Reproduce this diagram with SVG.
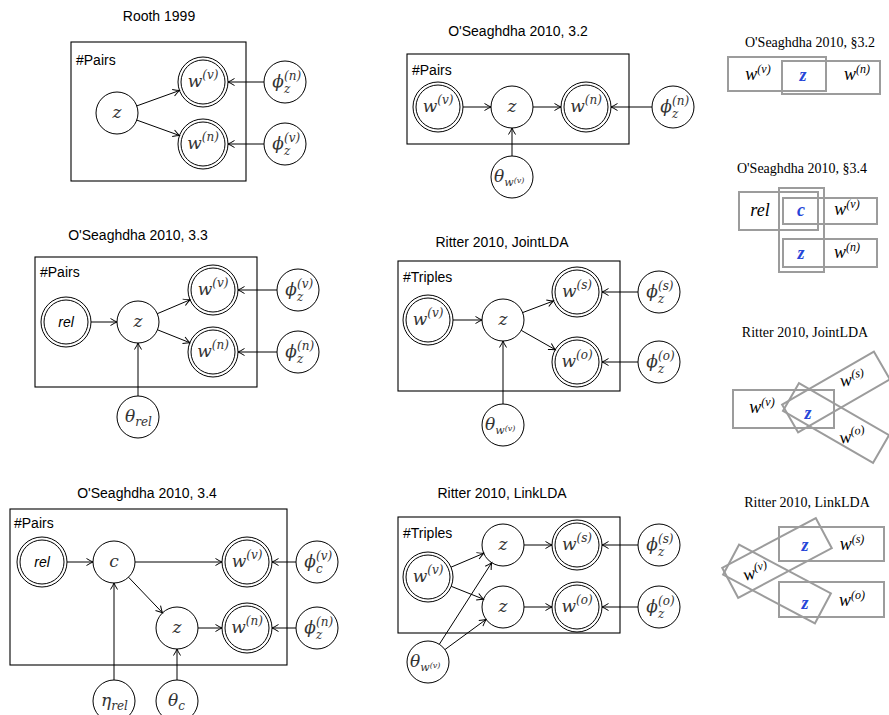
<svg xmlns="http://www.w3.org/2000/svg" width="889" height="715" viewBox="0 0 889 715">
<style>
.t{font-family:"Liberation Sans",Arial,sans-serif;font-size:14px;fill:#000}
.tc{text-anchor:middle}
.tt{font-family:"Liberation Serif","Times New Roman",serif;font-size:14px;fill:#000;text-anchor:middle}
.nd{fill:#fff;stroke:#000;stroke-width:1}
.pl{fill:none;stroke:#000;stroke-width:1.1}
.m{font-family:"DejaVu Serif",serif;font-style:italic;font-size:17px;fill:#333;text-anchor:middle}
.ms{font-family:"DejaVu Serif",serif;font-style:italic;font-size:12px;fill:#333}
.ml{font-family:"DejaVu Serif",serif;font-style:italic;font-size:17px;fill:#333}
.rl{font-family:"Liberation Sans",Arial,sans-serif;font-style:italic;font-size:14px;fill:#000;text-anchor:middle}
.ed line{stroke:#000;stroke-width:1;marker-end:url(#a)}
.gr{fill:none;stroke:#9c9c9c;stroke-width:2}
.rm{font-family:"Liberation Serif","Times New Roman",serif;font-style:italic;font-size:18px;fill:#000;text-anchor:middle}
.bz{fill:#2645d8;font-weight:bold}
</style>
<defs>
<marker id="a" viewBox="-8 -5 10 10" refX="0" refY="0" markerWidth="10" markerHeight="10" markerUnits="userSpaceOnUse" orient="auto">
<path d="M-6.5,-3.5 Q-2.5,-1 0,0 Q-2.5,1 -6.5,3.5" fill="none" stroke="#000" stroke-width="1"/>
</marker>
</defs>

<!-- ===== Rooth 1999 ===== -->
<g id="rooth">
<text class="t tc" x="159" y="21">Rooth 1999</text>
<rect class="pl" x="71" y="42" width="175" height="139"/>
<text class="t" x="76" y="65">#Pairs</text>
<g id="rooth-z"><circle class="nd" cx="117" cy="113" r="21"/><text class="m" x="117" y="118">z</text></g>
<g id="rooth-wv"><circle class="nd" cx="203" cy="82" r="25"/><circle class="nd" cx="203" cy="82" r="22"/><text class="m" x="203" y="87">w<tspan font-size="12" dy="-8">(v)</tspan></text></g>
<g id="rooth-wn"><circle class="nd" cx="203" cy="144" r="25"/><circle class="nd" cx="203" cy="144" r="22"/><text class="m" x="203" y="149">w<tspan font-size="12" dy="-8">(n)</tspan></text></g>
<g id="rooth-phin"><circle class="nd" cx="285" cy="82" r="21"/><text class="m" x="278" y="87">ϕ</text><text class="ms" x="284" y="80">(n)</text><text class="ms" x="284" y="93">z</text></g>
<g id="rooth-phiv"><circle class="nd" cx="285" cy="144" r="21"/><text class="m" x="278" y="149">ϕ</text><text class="ms" x="284" y="142">(v)</text><text class="ms" x="284" y="155">z</text></g>
</g>

<!-- ===== O'Seaghdha 3.2 ===== -->
<g id="os32">
<text class="t tc" x="518" y="36">O'Seaghdha 2010, 3.2</text>
<rect class="pl" x="407" y="54" width="222" height="90"/>
<text class="t" x="412" y="75">#Pairs</text>
<g id="os32-wv"><circle class="nd" cx="438" cy="107" r="25"/><circle class="nd" cx="438" cy="107" r="22"/><text class="m" x="438" y="112">w<tspan font-size="12" dy="-8">(v)</tspan></text></g>
<g id="os32-z"><circle class="nd" cx="512" cy="107" r="21"/><text class="m" x="512" y="112">z</text></g>
<g id="os32-wn"><circle class="nd" cx="586" cy="107" r="25"/><circle class="nd" cx="586" cy="107" r="22"/><text class="m" x="586" y="112">w<tspan font-size="12" dy="-8">(n)</tspan></text></g>
<g id="os32-phin"><circle class="nd" cx="673" cy="107" r="21"/><text class="m" x="666" y="112">ϕ</text><text class="ms" x="672" y="105">(n)</text><text class="ms" x="672" y="118">z</text></g>
<g id="os32-theta"><circle class="nd" cx="512" cy="177" r="21"/><text class="ml" x="494" y="182">θ<tspan font-size="11" dy="4">w</tspan><tspan font-size="8" dy="-3">(v)</tspan></text></g>
</g>

<!-- ===== O'Seaghdha 3.3 ===== -->
<g id="os33">
<text class="t tc" x="138" y="240">O'Seaghdha 2010, 3.3</text>
<rect class="pl" x="35" y="257" width="222" height="130"/>
<text class="t" x="40" y="277">#Pairs</text>
<g id="os33-rel"><circle class="nd" cx="66" cy="322" r="25"/><circle class="nd" cx="66" cy="322" r="22"/><text class="rl" x="66" y="327">rel</text></g>
<g id="os33-z"><circle class="nd" cx="138" cy="322" r="21"/><text class="m" x="138" y="327">z</text></g>
<g id="os33-wv"><circle class="nd" cx="213" cy="290" r="25"/><circle class="nd" cx="213" cy="290" r="22"/><text class="m" x="213" y="295">w<tspan font-size="12" dy="-8">(v)</tspan></text></g>
<g id="os33-wn"><circle class="nd" cx="213" cy="352" r="25"/><circle class="nd" cx="213" cy="352" r="22"/><text class="m" x="213" y="357">w<tspan font-size="12" dy="-8">(n)</tspan></text></g>
<g id="os33-phiv"><circle class="nd" cx="298" cy="290" r="21"/><text class="m" x="291" y="295">ϕ</text><text class="ms" x="297" y="288">(v)</text><text class="ms" x="297" y="301">z</text></g>
<g id="os33-phin"><circle class="nd" cx="298" cy="352" r="21"/><text class="m" x="291" y="357">ϕ</text><text class="ms" x="297" y="350">(n)</text><text class="ms" x="297" y="363">z</text></g>
<g id="os33-theta"><circle class="nd" cx="138" cy="417" r="21"/><text class="ml" x="125" y="422">θ<tspan font-size="12" dy="4">rel</tspan></text></g>
</g>

<!-- ===== Ritter JointLDA ===== -->
<g id="joint">
<text class="t tc" x="502" y="247">Ritter 2010, JointLDA</text>
<rect class="pl" x="398" y="261" width="222" height="130"/>
<text class="t" x="403" y="282">#Triples</text>
<g id="joint-wv"><circle class="nd" cx="428" cy="320" r="25"/><circle class="nd" cx="428" cy="320" r="22"/><text class="m" x="428" y="325">w<tspan font-size="12" dy="-8">(v)</tspan></text></g>
<g id="joint-z"><circle class="nd" cx="503" cy="320" r="21"/><text class="m" x="503" y="325">z</text></g>
<g id="joint-ws"><circle class="nd" cx="577" cy="292" r="25"/><circle class="nd" cx="577" cy="292" r="22"/><text class="m" x="577" y="297">w<tspan font-size="12" dy="-8">(s)</tspan></text></g>
<g id="joint-wo"><circle class="nd" cx="577" cy="362" r="25"/><circle class="nd" cx="577" cy="362" r="22"/><text class="m" x="577" y="367">w<tspan font-size="12" dy="-8">(o)</tspan></text></g>
<g id="joint-phis"><circle class="nd" cx="659" cy="292" r="21"/><text class="m" x="652" y="297">ϕ</text><text class="ms" x="658" y="290">(s)</text><text class="ms" x="658" y="303">z</text></g>
<g id="joint-phio"><circle class="nd" cx="659" cy="362" r="21"/><text class="m" x="652" y="367">ϕ</text><text class="ms" x="658" y="360">(o)</text><text class="ms" x="658" y="373">z</text></g>
<g id="joint-theta"><circle class="nd" cx="503" cy="425" r="21"/><text class="ml" x="485" y="430">θ<tspan font-size="11" dy="4">w</tspan><tspan font-size="8" dy="-3">(v)</tspan></text></g>
</g>

<!-- ===== O'Seaghdha 3.4 ===== -->
<g id="os34">
<text class="t tc" x="147" y="498">O'Seaghdha 2010, 3.4</text>
<rect class="pl" x="10" y="509" width="277" height="156"/>
<text class="t" x="14" y="528">#Pairs</text>
<g id="os34-rel"><circle class="nd" cx="42" cy="562" r="25"/><circle class="nd" cx="42" cy="562" r="22"/><text class="rl" x="42" y="567">rel</text></g>
<g id="os34-c"><circle class="nd" cx="114" cy="562" r="21"/><text class="m" x="114" y="567">c</text></g>
<g id="os34-wv"><circle class="nd" cx="247" cy="562" r="25"/><circle class="nd" cx="247" cy="562" r="22"/><text class="m" x="247" y="567">w<tspan font-size="12" dy="-8">(v)</tspan></text></g>
<g id="os34-phic"><circle class="nd" cx="317" cy="562" r="21"/><text class="m" x="310" y="567">ϕ</text><text class="ms" x="316" y="560">(v)</text><text class="ms" x="316" y="573">c</text></g>
<g id="os34-z"><circle class="nd" cx="177" cy="628" r="21"/><text class="m" x="177" y="633">z</text></g>
<g id="os34-wn"><circle class="nd" cx="247" cy="628" r="25"/><circle class="nd" cx="247" cy="628" r="22"/><text class="m" x="247" y="633">w<tspan font-size="12" dy="-8">(n)</tspan></text></g>
<g id="os34-phiz"><circle class="nd" cx="317" cy="628" r="21"/><text class="m" x="310" y="633">ϕ</text><text class="ms" x="316" y="626">(n)</text><text class="ms" x="316" y="639">z</text></g>
<g id="os34-eta"><circle class="nd" cx="114" cy="701" r="21"/><text class="ml" x="101" y="706">η<tspan font-size="12" dy="4">rel</tspan></text></g>
<g id="os34-theta"><circle class="nd" cx="177" cy="701" r="21"/><text class="ml" x="168" y="706">θ<tspan font-size="12" dy="4">c</tspan></text></g>
</g>

<!-- ===== Ritter LinkLDA ===== -->
<g id="link">
<text class="t tc" x="502" y="498">Ritter 2010, LinkLDA</text>
<rect class="pl" x="398" y="517" width="222" height="116"/>
<text class="t" x="403" y="538">#Triples</text>
<g id="link-zt"><circle class="nd" cx="503" cy="545" r="21"/><text class="m" x="503" y="550">z</text></g>
<g id="link-zb"><circle class="nd" cx="503" cy="607" r="21"/><text class="m" x="503" y="612">z</text></g>
<g id="link-wv"><circle class="nd" cx="428" cy="577" r="25"/><circle class="nd" cx="428" cy="577" r="22"/><text class="m" x="428" y="582">w<tspan font-size="12" dy="-8">(v)</tspan></text></g>
<g id="link-ws"><circle class="nd" cx="577" cy="545" r="25"/><circle class="nd" cx="577" cy="545" r="22"/><text class="m" x="577" y="550">w<tspan font-size="12" dy="-8">(s)</tspan></text></g>
<g id="link-wo"><circle class="nd" cx="577" cy="607" r="25"/><circle class="nd" cx="577" cy="607" r="22"/><text class="m" x="577" y="612">w<tspan font-size="12" dy="-8">(o)</tspan></text></g>
<g id="link-phis"><circle class="nd" cx="659" cy="545" r="21"/><text class="m" x="652" y="550">ϕ</text><text class="ms" x="658" y="543">(s)</text><text class="ms" x="658" y="556">z</text></g>
<g id="link-phio"><circle class="nd" cx="659" cy="607" r="21"/><text class="m" x="652" y="612">ϕ</text><text class="ms" x="658" y="605">(o)</text><text class="ms" x="658" y="618">z</text></g>
<g id="link-theta"><circle class="nd" cx="428" cy="662" r="21"/><text class="ml" x="410" y="667">θ<tspan font-size="11" dy="4">w</tspan><tspan font-size="8" dy="-3">(v)</tspan></text></g>
</g>

<!-- ===== Connectors ===== -->
<g id="connectors" class="ed">
<line x1="136.8" y1="105.9" x2="179.5" y2="90.5"/>
<line x1="136.8" y1="120.1" x2="179.5" y2="135.5"/>
<line x1="264" y1="82" x2="228" y2="82"/>
<line x1="264" y1="144" x2="228" y2="144"/>

<line x1="463" y1="107" x2="491" y2="107"/>
<line x1="533" y1="107" x2="561" y2="107"/>
<line x1="652" y1="107" x2="611" y2="107"/>
<line x1="512" y1="156" x2="512" y2="128"/>

<line x1="91" y1="322" x2="117" y2="322"/>
<line x1="157.3" y1="313.7" x2="190" y2="299.8"/>
<line x1="157.5" y1="329.8" x2="189.8" y2="342.7"/>
<line x1="277" y1="290" x2="238" y2="290"/>
<line x1="277" y1="352" x2="238" y2="352"/>
<line x1="138" y1="396" x2="138" y2="343"/>

<line x1="453" y1="320" x2="482" y2="320"/>
<line x1="522.6" y1="312.6" x2="553.6" y2="300.9"/>
<line x1="521.3" y1="330.4" x2="555.3" y2="349.7"/>
<line x1="638" y1="292" x2="602" y2="292"/>
<line x1="638" y1="362" x2="602" y2="362"/>
<line x1="503" y1="404" x2="503" y2="341"/>

<line x1="67" y1="562" x2="93" y2="562"/>
<line x1="135" y1="562" x2="222" y2="562"/>
<line x1="296" y1="562" x2="272" y2="562"/>
<line x1="128.5" y1="577.2" x2="162.5" y2="612.8"/>
<line x1="198" y1="628" x2="222" y2="628"/>
<line x1="296" y1="628" x2="272" y2="628"/>
<line x1="114" y1="680" x2="114" y2="583"/>
<line x1="177" y1="680" x2="177" y2="649"/>

<line x1="451" y1="567.2" x2="483.7" y2="553.3"/>
<line x1="451.2" y1="586.3" x2="483.5" y2="599.2"/>
<line x1="439.3" y1="644.3" x2="491.7" y2="562.7"/>
<line x1="444.9" y1="649.6" x2="486.1" y2="619.4"/>
<line x1="524" y1="545" x2="552" y2="545"/>
<line x1="524" y1="607" x2="552" y2="607"/>
<line x1="638" y1="545" x2="602" y2="545"/>
<line x1="638" y1="607" x2="602" y2="607"/>
</g>

<!-- ===== Right column: block diagrams ===== -->
<g id="blk32">
<text class="tt" x="810" y="47">O'Seaghdha 2010, §3.2</text>
<rect class="gr" x="728" y="57" width="98" height="34"/>
<rect class="gr" x="782" y="61" width="98" height="33"/>
<text class="rm" x="758" y="80">w<tspan font-size="12" dy="-7">(v)</tspan></text>
<text class="rm bz" x="803" y="81">z</text>
<text class="rm" x="857" y="80">w<tspan font-size="12" dy="-7">(n)</tspan></text>
</g>

<g id="blk34">
<text class="tt" x="802" y="173">O'Seaghdha 2010, §3.4</text>
<rect class="gr" x="739" y="192" width="79" height="38"/>
<rect class="gr" x="779" y="188" width="45" height="84"/>
<rect class="gr" x="783" y="198" width="94" height="26"/>
<rect class="gr" x="783" y="239" width="94" height="28"/>
<text class="rm" x="760" y="216">rel</text>
<text class="rm bz" x="801" y="216">c</text>
<text class="rm" x="847" y="215">w<tspan font-size="12" dy="-7">(v)</tspan></text>
<text class="rm bz" x="801" y="259">z</text>
<text class="rm" x="847" y="258">w<tspan font-size="12" dy="-7">(n)</tspan></text>
</g>

<g id="blkjoint">
<text class="tt" x="805" y="337">Ritter 2010, JointLDA</text>
<rect class="gr" x="733" y="390" width="101" height="38"/>
<rect class="gr" x="-53" y="-16" width="106" height="32" transform="translate(836 392) rotate(-30)"/>
<rect class="gr" x="-52" y="-16" width="104" height="32" transform="translate(836 423) rotate(30)"/>
<text class="rm" x="762" y="413">w<tspan font-size="12" dy="-7">(v)</tspan></text>
<text class="rm bz" x="808" y="419">z</text>
<text class="rm" transform="translate(853 385) rotate(-8)">w<tspan font-size="12" dy="-7">(s)</tspan></text>
<text class="rm" transform="translate(853 442) rotate(-8)">w<tspan font-size="12" dy="-7">(o)</tspan></text>
</g>

<g id="blklink">
<text class="tt" x="807" y="507">Ritter 2010, LinkLDA</text>
<rect class="gr" x="779" y="527" width="105" height="34"/>
<rect class="gr" x="779" y="582" width="105" height="35"/>
<rect class="gr" x="-53" y="-17" width="106" height="34" transform="translate(777 558) rotate(-28)"/>
<rect class="gr" x="-52" y="-17" width="104" height="34" transform="translate(777 584) rotate(28)"/>
<text class="rm bz" x="805" y="551">z</text>
<text class="rm" x="852" y="550">w<tspan font-size="12" dy="-7">(s)</tspan></text>
<text class="rm" transform="translate(757 578) rotate(-14)">w<tspan font-size="12" dy="-7">(v)</tspan></text>
<text class="rm bz" x="805" y="609">z</text>
<text class="rm" x="852" y="606">w<tspan font-size="12" dy="-7">(o)</tspan></text>
</g>
</svg>
